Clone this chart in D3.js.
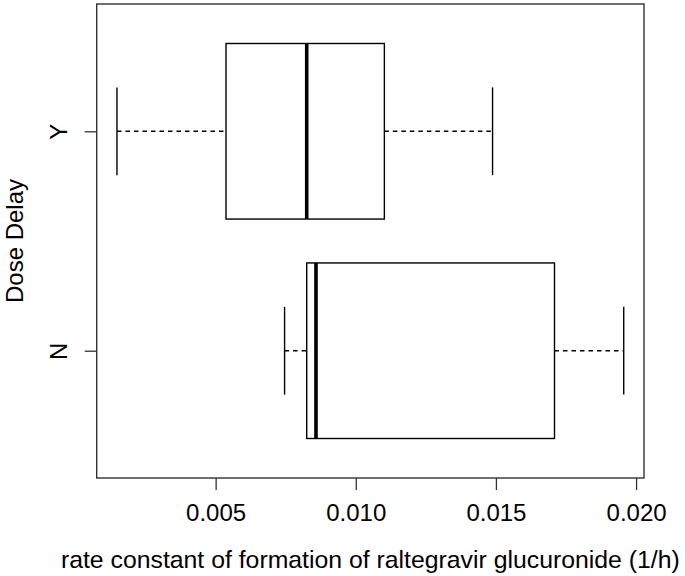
<!DOCTYPE html>
<html>
<head>
<meta charset="utf-8">
<script src="https://cdn.jsdelivr.net/npm/d3@7"></script>
<style>
  html, body { margin: 0; padding: 0; background: #fff; }
  svg { display: block; font-family: "Liberation Sans", Arial, sans-serif; }
</style>
</head>
<body>
<svg id="chart" width="685" height="576"></svg>
<script>
// ---- data ----
const categories = ["N", "Y"];
const whiskerLow  = [0.00746, 0.00148];
const q1          = [0.00825, 0.00537];
const median      = [0.00858, 0.00825];
const q3          = [0.01709, 0.01102];
const whiskerHigh = [0.01956, 0.01488];
const xTicks = [0.005, 0.010, 0.015, 0.020];
const xTitle = "rate constant of formation of raltegravir glucuronide (1/h)";
const yTitle = "Dose Delay";

// ---- layout ----
const W = 685, H = 576;
const plot = { left: 96.7, right: 644, top: 4, bottom: 478 };
const fontSize = 24;
const titleSize = 24.8;

const svg = d3.select("#chart");

// R-style 4% extension
const dMin = d3.min(whiskerLow), dMax = d3.max(whiskerHigh);
const ext = (dMax - dMin) * 0.04;
const x = d3.scaleLinear().domain([dMin - ext, dMax + ext]).range([plot.left, plot.right]);
const y = d3.scaleLinear().domain([0.42, 2.58]).range([plot.bottom, plot.top]);

const data = categories.map((c, i) => ({
  cat: c, pos: i + 1,
  lo: whiskerLow[i], q1: q1[i], med: median[i], q3: q3[i], hi: whiskerHigh[i]
}));

const boxHalf = 0.4, stapleHalf = 0.2;
const g = svg.append("g");

const groups = g.selectAll("g.box").data(data).enter().append("g").attr("class", "box");

// dashed whiskers
groups.append("line")
  .attr("x1", d => x(d.lo)).attr("x2", d => x(d.q1))
  .attr("y1", d => y(d.pos)).attr("y2", d => y(d.pos))
  .attr("stroke", "#000").attr("stroke-width", 1.4).attr("stroke-dasharray", "4.5,4");
groups.append("line")
  .attr("x1", d => x(d.q3)).attr("x2", d => x(d.hi))
  .attr("y1", d => y(d.pos)).attr("y2", d => y(d.pos))
  .attr("stroke", "#000").attr("stroke-width", 1.4).attr("stroke-dasharray", "4.5,4");
// staples
groups.append("line")
  .attr("x1", d => x(d.lo)).attr("x2", d => x(d.lo))
  .attr("y1", d => y(d.pos - stapleHalf)).attr("y2", d => y(d.pos + stapleHalf))
  .attr("stroke", "#000").attr("stroke-width", 1.4);
groups.append("line")
  .attr("x1", d => x(d.hi)).attr("x2", d => x(d.hi))
  .attr("y1", d => y(d.pos - stapleHalf)).attr("y2", d => y(d.pos + stapleHalf))
  .attr("stroke", "#000").attr("stroke-width", 1.4);
// boxes
groups.append("rect")
  .attr("x", d => x(d.q1)).attr("width", d => x(d.q3) - x(d.q1))
  .attr("y", d => y(d.pos + boxHalf)).attr("height", d => y(d.pos - boxHalf) - y(d.pos + boxHalf))
  .attr("fill", "#fff").attr("stroke", "#000").attr("stroke-width", 1.4);
// medians
groups.append("line")
  .attr("x1", d => x(d.med)).attr("x2", d => x(d.med))
  .attr("y1", d => y(d.pos - boxHalf)).attr("y2", d => y(d.pos + boxHalf))
  .attr("stroke", "#000").attr("stroke-width", 3.6);

// frame
svg.append("rect")
  .attr("x", plot.left).attr("y", plot.top)
  .attr("width", plot.right - plot.left).attr("height", plot.bottom - plot.top)
  .attr("fill", "none").attr("stroke", "#333").attr("stroke-width", 1.4);

// x axis
const xAxis = svg.append("g")
  .attr("transform", `translate(0,${plot.bottom})`)
  .call(d3.axisBottom(x).tickValues(xTicks).tickSize(12).tickFormat(d3.format(".3f")));
xAxis.select(".domain").remove();
xAxis.selectAll(".tick line").attr("stroke", "#333").attr("stroke-width", 1.3);
xAxis.selectAll(".tick text")
  .attr("y", 42.7).attr("dy", 0)
  .attr("font-size", fontSize).attr("font-family", "Liberation Sans, Arial, sans-serif")
  .attr("fill", "#000");

// y axis
const yAxis = svg.append("g")
  .attr("transform", `translate(${plot.left},0)`)
  .call(d3.axisLeft(y).tickValues(data.map(d => d.pos)).tickSize(12)
    .tickFormat((d, i) => categories[i]));
yAxis.select(".domain").remove();
yAxis.selectAll(".tick line").attr("stroke", "#333").attr("stroke-width", 1.3);
yAxis.selectAll(".tick text")
  .attr("x", null).attr("dy", 0)
  .attr("text-anchor", "middle")
  .attr("transform", "translate(-29.7,0) rotate(-90)")
  .attr("font-size", fontSize).attr("font-family", "Liberation Sans, Arial, sans-serif")
  .attr("fill", "#000");

// titles
svg.append("text")
  .attr("x", (plot.left + plot.right) / 2).attr("y", 567.7)
  .attr("text-anchor", "middle").attr("font-size", titleSize).attr("fill", "#000")
  .text(xTitle);
svg.append("text")
  .attr("transform", `translate(23,${(plot.top + plot.bottom) / 2}) rotate(-90)`)
  .attr("text-anchor", "middle").attr("font-size", fontSize).attr("fill", "#000")
  .text(yTitle);
</script>
</body>
</html>
